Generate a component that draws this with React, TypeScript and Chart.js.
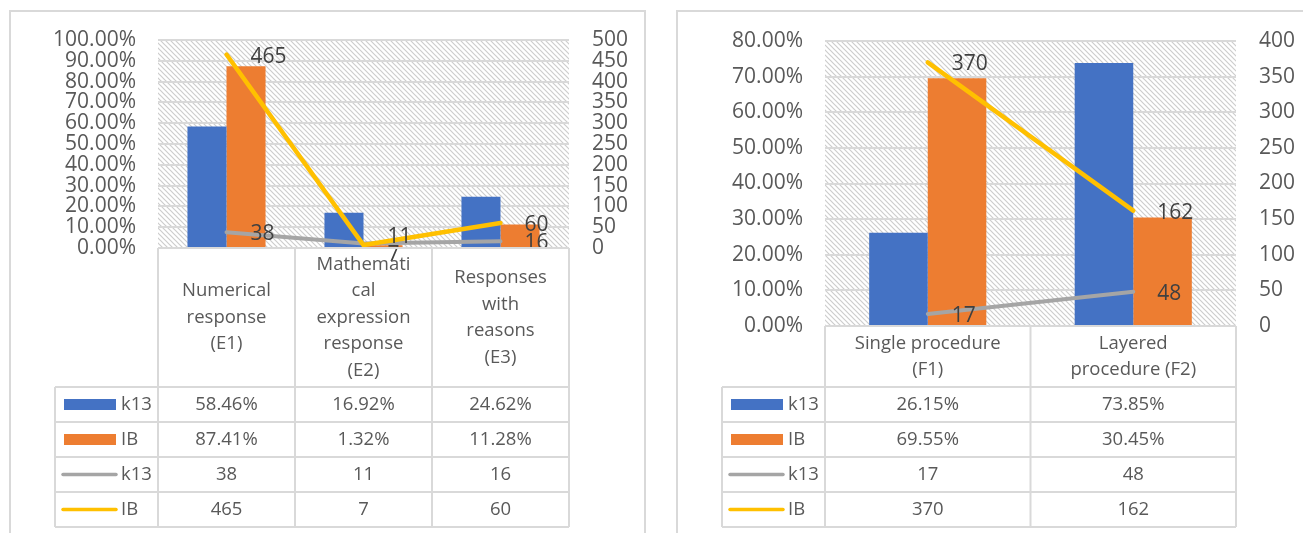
import React, { useEffect, useRef } from "react";
import { Chart, registerables } from "chart.js";

Chart.register(...registerables);

// ---------- data ----------
const categoriesE: string[][] = [
  ["Numerical", "response", "(E1)"],
  ["Mathemati", "cal", "expression", "response", "(E2)"],
  ["Responses", "with", "reasons", "(E3)"],
];
const k13PctE = [58.46, 16.92, 24.62];
const ibPctE = [87.41, 1.32, 11.28];
const k13CountE = [38, 11, 16];
const ibCountE = [465, 7, 60];

const categoriesF: string[][] = [
  ["Single procedure", "(F1)"],
  ["Layered", "procedure (F2)"],
];
const k13PctF = [26.15, 73.85];
const ibPctF = [69.55, 30.45];
const k13CountF = [17, 48];
const ibCountF = [370, 162];

const seriesNames = ["k13", "IB", "k13", "IB"];
const pctMaxE = 100;
const countMaxE = 500;
const pctMaxF = 80;
const countMaxF = 400;
const pctStep = 10;
const countStep = 50;

// ---------- styles ----------
const BLUE = "#4472C4";
const ORANGE = "#ED7D31";
const GRAY = "#A5A5A5";
const YELLOW = "#FFC000";
const GRID = "#d9d9d9";
const TEXT = "#595959";
const LABEL = "#404040";
const FONT = "'Open Sans', sans-serif";

Chart.defaults.font.family = FONT;

function makeHatch(ctx: CanvasRenderingContext2D) {
  const s = 5;
  const c = document.createElement("canvas");
  c.width = s;
  c.height = s;
  const g = c.getContext("2d")!;
  g.fillStyle = "#ffffff";
  g.fillRect(0, 0, s, s);
  g.strokeStyle = "#cdcdcd";
  g.lineWidth = 1.2;
  g.beginPath();
  g.moveTo(-1, -1);
  g.lineTo(s + 1, s + 1);
  g.moveTo(-1, s - 1);
  g.lineTo(1, s + 1);
  g.moveTo(s - 1, -1);
  g.lineTo(s + 1, 1);
  g.stroke();
  return ctx.createPattern(c, "repeat");
}

const hatchPlugin = {
  id: "hatchBg",
  beforeDraw(chart: any) {
    const { ctx, chartArea } = chart;
    ctx.save();
    ctx.fillStyle = makeHatch(ctx) as any;
    ctx.fillRect(chartArea.left, chartArea.top, chartArea.right - chartArea.left, chartArea.bottom - chartArea.top);
    ctx.restore();
  },
};

const labelPlugin = {
  id: "lineLabels",
  afterDatasetsDraw(chart: any) {
    const { ctx } = chart;
    ctx.save();
    ctx.font = `21px ${FONT}`;
    ctx.fillStyle = LABEL;
    ctx.textAlign = "left";
    ctx.textBaseline = "middle";
    // collect labels per category, then keep them from overlapping
    const groups: Record<number, { x: number; y: number; t: string }[]> = {};
    chart.data.datasets.forEach((ds: any, di: number) => {
      if (ds.type !== "line") return;
      const meta = chart.getDatasetMeta(di);
      meta.data.forEach((pt: any, i: number) => {
        (groups[i] = groups[i] || []).push({ x: pt.x + 24, y: pt.y + 2, t: String(ds.data[i]) });
      });
    });
    const minSep = 18;
    Object.values(groups).forEach((arr) => {
      arr.sort((a, b) => a.y - b.y);
      for (let k = 1; k < arr.length; k++) {
        const d = arr[k].y - arr[k - 1].y;
        if (d < minSep) {
          const push = (minSep - d) / 2;
          arr[k - 1].y -= push;
          arr[k].y += push;
        }
      }
      arr.forEach((l) => ctx.fillText(l.t, l.x, l.y));
    });
    ctx.restore();
  },
};

const tablePlugin = {
  id: "dataTable",
  afterDraw(chart: any, _args: any, opts: any) {
    const { ctx, chartArea } = chart;
    const xs = chart.scales.x;
    const labels: string[][] = chart.data.labels;
    const n = labels.length;
    const colW = (chartArea.right - chartArea.left) / n;
    const bounds: number[] = [];
    for (let i = 0; i < n; i++) bounds.push(xs.getPixelForTick(i) - colW / 2);
    bounds.push(xs.getPixelForTick(n - 1) + colW / 2);
    const headTop = chartArea.bottom;
    const rowsTop = opts.rowsTop;
    const rowH = opts.rowH;
    const nRows = chart.data.datasets.length;
    const bottom = rowsTop + nRows * rowH;
    const legendLeft = chartArea.left - 103;

    ctx.save();
    ctx.strokeStyle = GRID;
    ctx.lineWidth = 2;
    ctx.beginPath();
    ctx.moveTo(bounds[0], headTop);
    ctx.lineTo(bounds[n], headTop);
    for (let r = 0; r <= nRows; r++) {
      const y = rowsTop + r * rowH;
      ctx.moveTo(legendLeft, y);
      ctx.lineTo(bounds[n], y);
    }
    for (let i = 0; i <= n; i++) {
      ctx.moveTo(bounds[i], headTop);
      ctx.lineTo(bounds[i], bottom);
    }
    ctx.moveTo(legendLeft, rowsTop);
    ctx.lineTo(legendLeft, bottom);
    ctx.stroke();

    ctx.fillStyle = TEXT;
    ctx.font = `18.5px ${FONT}`;
    ctx.textBaseline = "middle";
    ctx.textAlign = "center";
    const headMid = (headTop + rowsTop) / 2;
    const lh = 26.5;
    labels.forEach((lines, i) => {
      const cx = (bounds[i] + bounds[i + 1]) / 2;
      const y0 = headMid - ((lines.length - 1) * lh) / 2;
      lines.forEach((ln, k) => ctx.fillText(ln, cx, y0 + k * lh));
    });

    chart.data.datasets.forEach((ds: any, r: number) => {
      const cy = rowsTop + r * rowH + rowH / 2;
      if (ds.type === "bar") {
        ctx.fillStyle = ds.backgroundColor;
        ctx.fillRect(chartArea.left - 94, cy - 5.5, 52, 11);
      } else {
        ctx.strokeStyle = ds.borderColor;
        ctx.lineWidth = 3.5;
        ctx.lineCap = "round";
        ctx.beginPath();
        ctx.moveTo(chartArea.left - 95, cy);
        ctx.lineTo(chartArea.left - 42, cy);
        ctx.stroke();
      }
      ctx.fillStyle = TEXT;
      ctx.textAlign = "left";
      ctx.fillText(ds.label, chartArea.left - 37, cy);
      ctx.textAlign = "center";
      ds.data.forEach((v: number, i: number) => {
        const cx = (bounds[i] + bounds[i + 1]) / 2;
        const txt = ds.type === "bar" ? v.toFixed(2) + "%" : String(v);
        ctx.fillText(txt, cx, cy);
      });
    });
    ctx.restore();
  },
};

type Props = {
  left: number;
  width: number;
  height: number;
  labels: string[][];
  k13Pct: number[];
  ibPct: number[];
  k13Count: number[];
  ibCount: number[];
  pctMax: number;
  countMax: number;
  leftAxisW: number;
  rightAxisW: number;
  padTop: number;
  padBottom: number;
  rowsTop: number;
};

function ComboChart(p: Props) {
  const ref = useRef<HTMLCanvasElement>(null);
  useEffect(() => {
    const barCommon = { type: "bar", categoryPercentage: 0.57, barPercentage: 1, yAxisID: "y", order: 2, borderWidth: 0 };
    const lineCommon = {
      type: "line",
      yAxisID: "y1",
      pointRadius: 0,
      tension: 0,
      fill: false,
      borderCapStyle: "round",
      borderJoinStyle: "round",
    };
    const chart = new Chart(ref.current!, {
      type: "bar",
      data: {
        labels: p.labels as any,
        datasets: [
          { ...barCommon, label: seriesNames[0], data: p.k13Pct, backgroundColor: BLUE },
          { ...barCommon, label: seriesNames[1], data: p.ibPct, backgroundColor: ORANGE },
          { ...lineCommon, label: seriesNames[2], data: p.k13Count, borderColor: GRAY, backgroundColor: GRAY, borderWidth: 4, order: 1 },
          { ...lineCommon, label: seriesNames[3], data: p.ibCount, borderColor: YELLOW, backgroundColor: YELLOW, borderWidth: 4.5, order: 0 },
        ] as any,
      },
      options: {
        animation: false,
        responsive: false,
        maintainAspectRatio: false,
        layout: { padding: { top: p.padTop, bottom: p.padBottom, left: 0, right: 0 } },
        plugins: {
          legend: { display: false },
          tooltip: { enabled: false },
          dataTable: { rowsTop: p.rowsTop, rowH: 35 },
        } as any,
        scales: {
          x: { display: false, offset: true },
          y: {
            position: "left",
            min: 0,
            max: p.pctMax,
            ticks: {
              stepSize: pctStep,
              autoSkip: false,
              padding: 22,
              color: TEXT,
              font: { size: 21, family: FONT },
              callback: (v: any) => Number(v).toFixed(2) + "%",
            },
            grid: { color: GRID, lineWidth: 2, drawTicks: false },
            border: { display: false },
            afterFit: (s: any) => {
              s.width = p.leftAxisW;
            },
          },
          y1: {
            position: "right",
            min: 0,
            max: p.countMax,
            ticks: {
              stepSize: countStep,
              autoSkip: false,
              padding: 23,
              color: TEXT,
              font: { size: 21, family: FONT },
            },
            grid: { display: false, drawTicks: false },
            border: { display: false },
            afterFit: (s: any) => {
              s.width = p.rightAxisW;
            },
          },
        } as any,
      },
      plugins: [hatchPlugin, labelPlugin, tablePlugin],
    } as any);
    return () => chart.destroy();
  }, []);
  return (
    <canvas
      ref={ref}
      width={p.width}
      height={p.height}
      style={{ position: "absolute", left: p.left, top: 0, width: p.width, height: p.height }}
    />
  );
}

export default function App() {
  return (
    <div style={{ position: "fixed", left: 0, top: 0, width: 1303, height: 533, background: "#fff", overflow: "hidden" }}>
      <div style={{ position: "absolute", left: 9, top: 10, width: 637, height: 560, border: `2px solid ${GRID}`, boxSizing: "border-box" }} />
      <div style={{ position: "absolute", left: 676, top: 10, width: 700, height: 560, border: `2px solid ${GRID}`, boxSizing: "border-box" }} />
      <ComboChart
        left={0}
        width={660}
        height={533}
        labels={categoriesE}
        k13Pct={k13PctE}
        ibPct={ibPctE}
        k13Count={k13CountE}
        ibCount={ibCountE}
        pctMax={pctMaxE}
        countMax={countMaxE}
        leftAxisW={158}
        rightAxisW={91}
        padTop={40}
        padBottom={285}
        rowsTop={387}
      />
      <ComboChart
        left={660}
        width={643}
        height={533}
        labels={categoriesF}
        k13Pct={k13PctF}
        ibPct={ibPctF}
        k13Count={k13CountF}
        ibCount={ibCountF}
        pctMax={pctMaxF}
        countMax={countMaxF}
        leftAxisW={165}
        rightAxisW={67}
        padTop={41}
        padBottom={207}
        rowsTop={387}
      />
    </div>
  );
}
